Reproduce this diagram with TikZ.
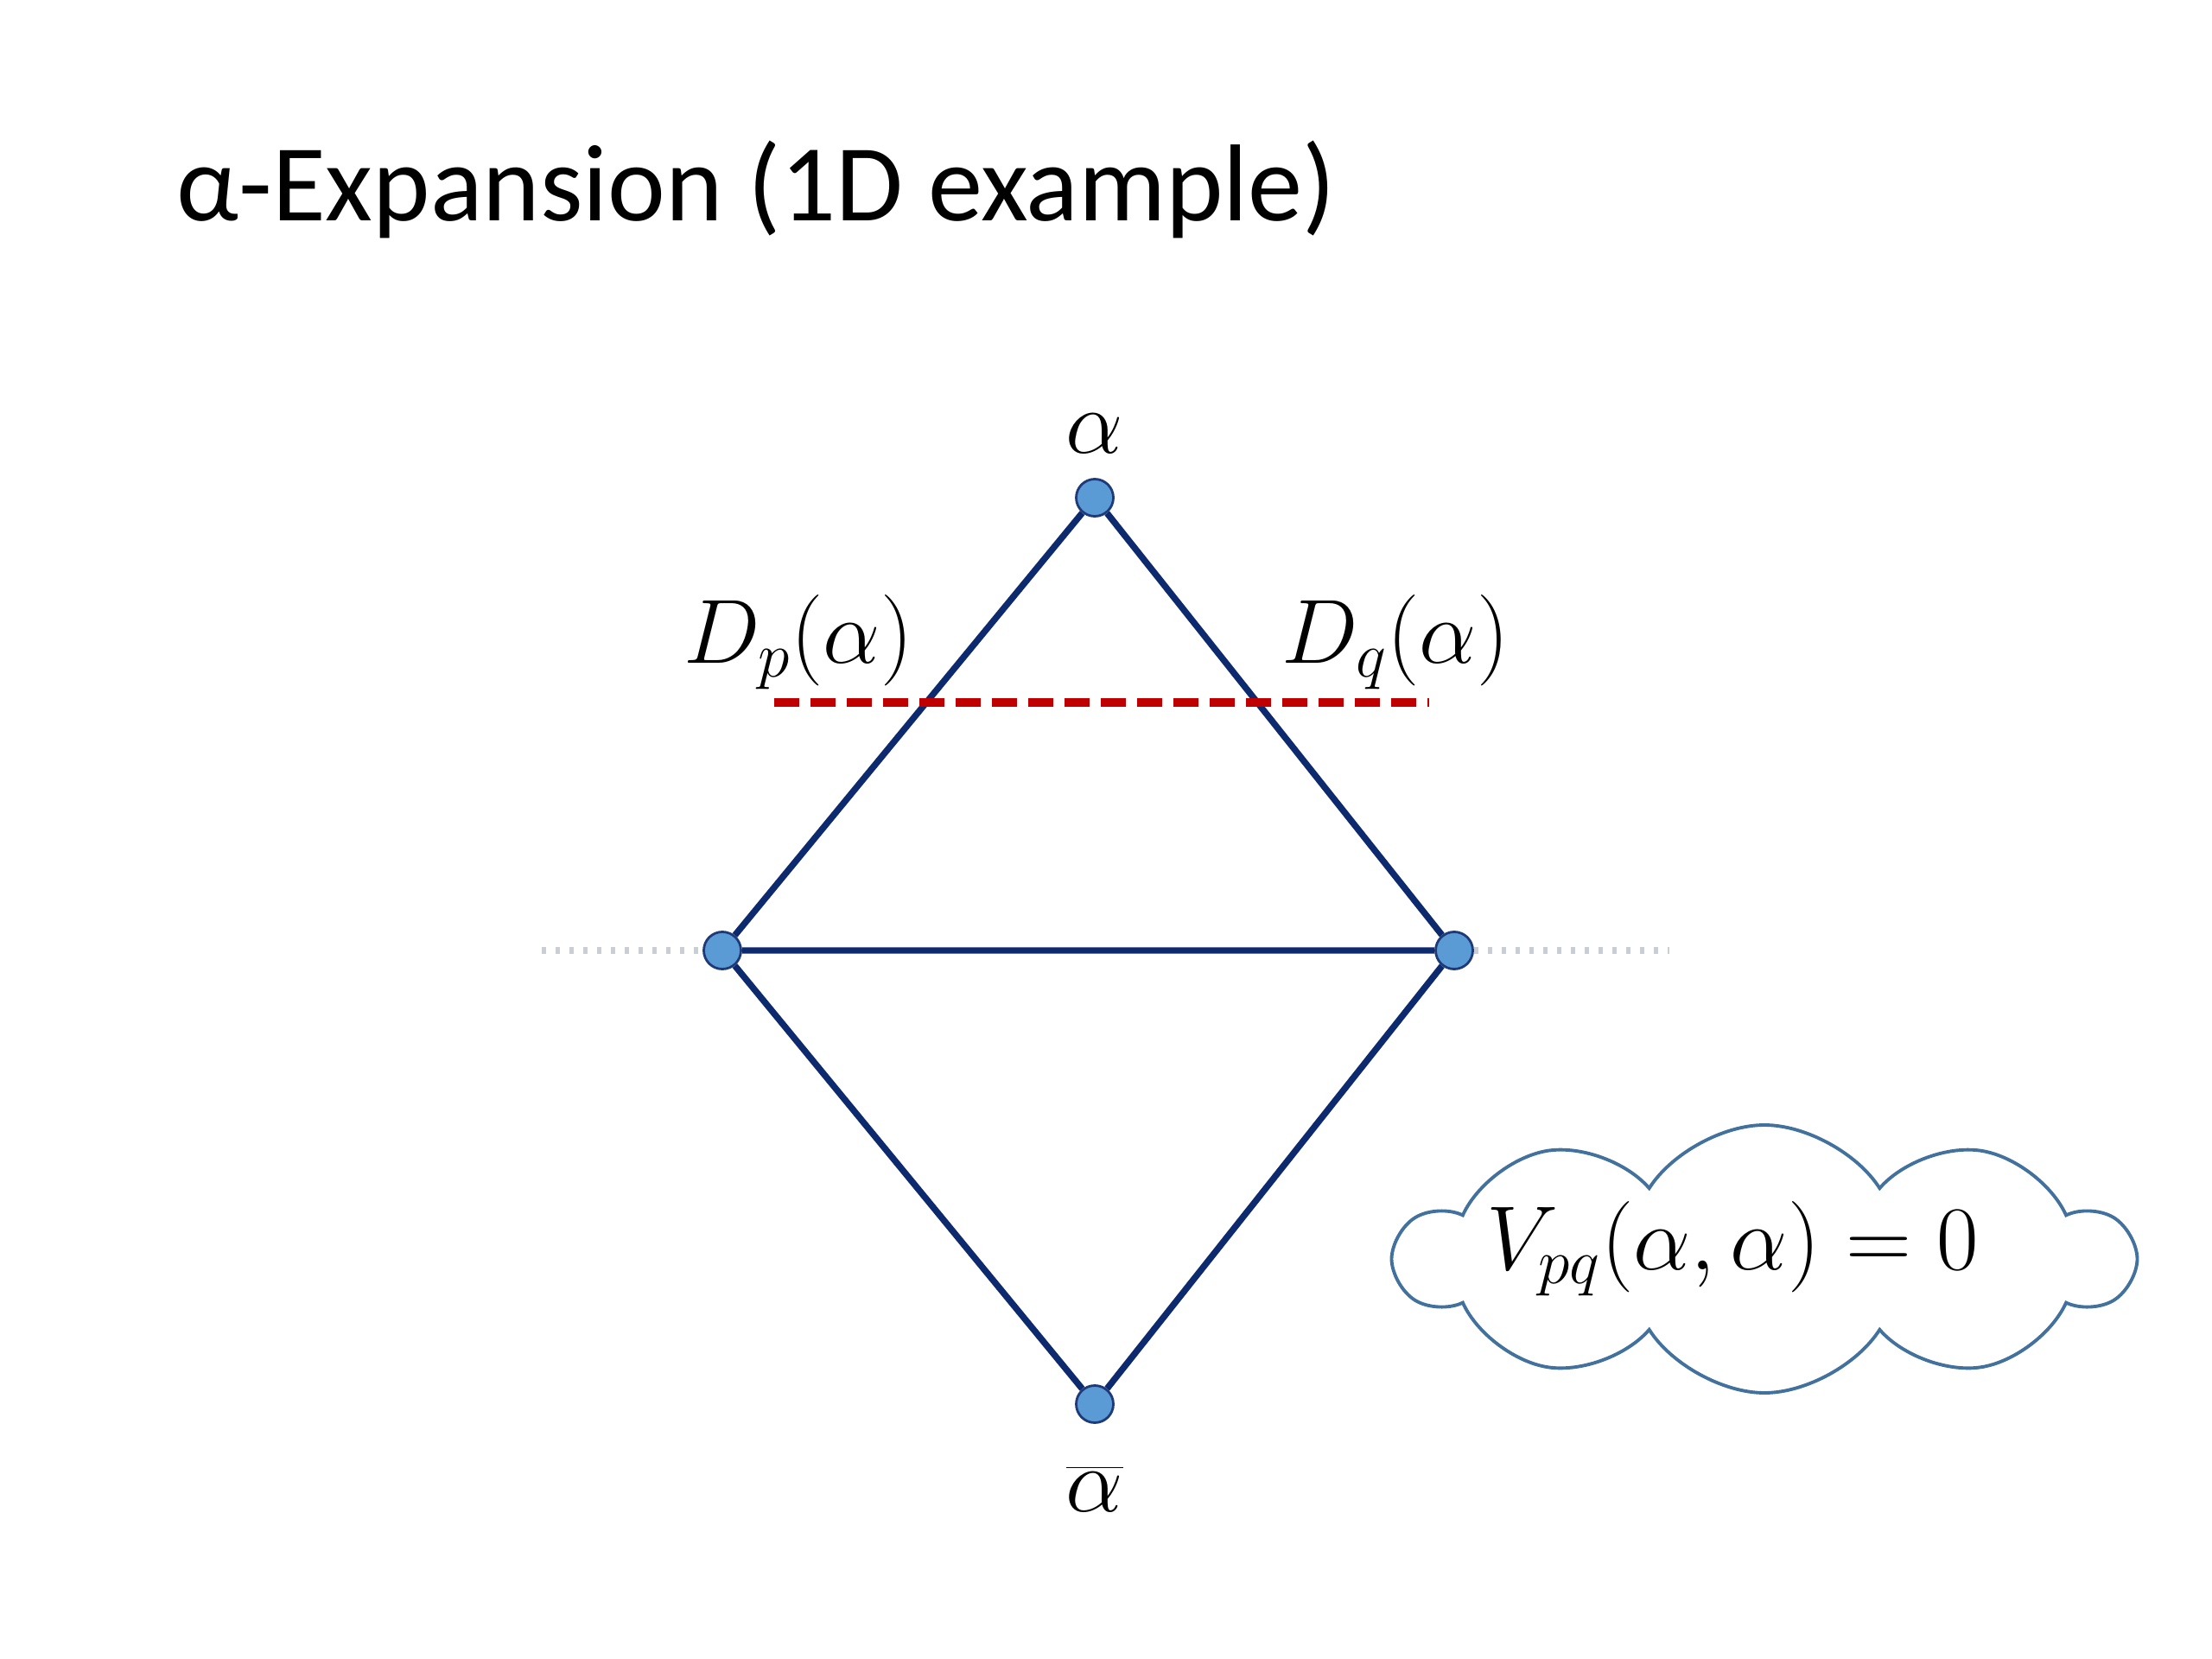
\documentclass[tikz,border=0pt]{standalone}
\usepackage{fix-cm}
\usepackage{fontspec}
\setmainfont{Carlito}
\usetikzlibrary{positioning,shapes.symbols}
\definecolor{edgeblue}{HTML}{0E2A6E}
\definecolor{nodeblue}{HTML}{5B9BD5}
\definecolor{nodeline}{HTML}{1F3A78}
\definecolor{cutred}{HTML}{C00000}
\definecolor{guidegray}{HTML}{C9CDD6}
\definecolor{cloudline}{HTML}{41719C}

\begin{document}
\begin{tikzpicture}[
  vx/.style={circle,draw=nodeline,line width=0.8pt,fill=nodeblue,minimum size=4.3mm,inner sep=0pt},
  ed/.style={edgeblue,line width=2.1pt},
  lbl/.style={inner sep=0pt,font=\fontsize{30}{36}\selectfont}]
\useasboundingbox (0,0) rectangle (25.6,-19.2);
\node[anchor=base west,inner sep=0pt,font=\fontsize{36}{43}\selectfont] (title) at (2.04,-2.56) {α-Expansion (1D example)};
% graph
\node[vx] (top) at (12.67,-5.76) {};
\node[vx] (L) at (8.36,-11.0) {};
\node[vx] (R) at (16.83,-11.0) {};
\node[vx] (bot) at (12.67,-16.25) {};
\draw[ed] (top)--(L) (top)--(R) (L)--(R) (L)--(bot) (R)--(bot);
\node[lbl,above=2.8mm of top] (atop) {$\alpha$};
\node[lbl,below=4.8mm of bot] (abot) {$\overline{\alpha}$};
\node[lbl] (dp) at (9.24,-7.43) {$D_p(\alpha)$};
\node[lbl] (dq) at (16.15,-7.43) {$D_q(\alpha)$};
% cut and guides
\coordinate (cl) at (8.96,-8.13);
\coordinate (cr) at (16.54,-8.13);
\draw[cutred,line width=2.6pt,dash pattern=on 0.29cm off 0.13cm] (cl)--(cr);
\coordinate (gl) at (6.27,-11.0);
\coordinate (gr) at (19.32,-11.0);
\draw[guidegray,line width=2pt,dash pattern=on 0.05cm off 0.11cm] (gl)--(L) (R)--(gr);
% cloud
\node[cloud,cloud puffs=10,cloud puff arc=115,draw=cloudline,line width=1.1pt,
  minimum width=8.5cm,minimum height=3.1cm,aspect=2.8] (cld) at (20.42,-14.57) {};
\node[lbl] (vpq) at (20.05,-14.45) {$V_{pq}(\alpha,\alpha)=0$};
\end{tikzpicture}
\end{document}
